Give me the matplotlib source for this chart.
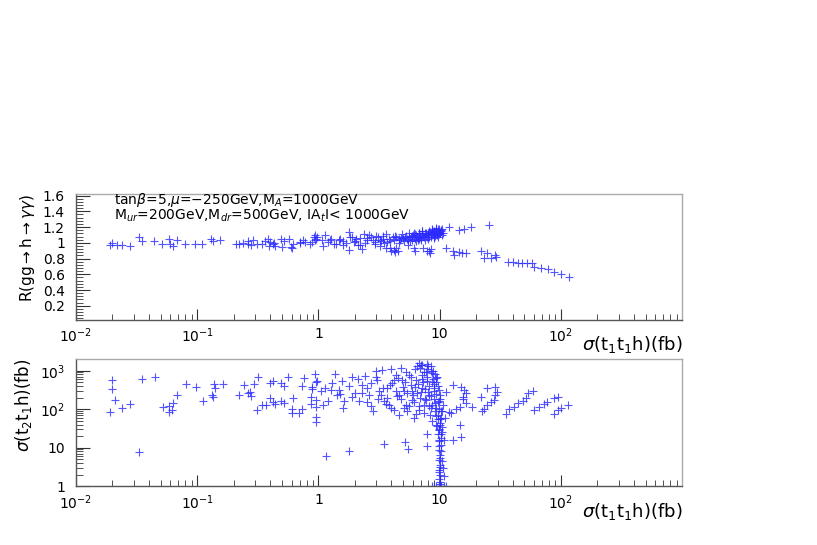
import matplotlib
matplotlib.use("Agg")
import matplotlib.pyplot as plt
from matplotlib.ticker import FixedLocator, FixedFormatter, MultipleLocator, LogLocator, NullFormatter

# ---------------- data: top panel  (sigma(t1 t1 h) [fb], R(gg->h->gamma gamma)) -------------
x_top = [0.019, 0.020, 0.022, 0.024, 0.028, 0.033, 0.035, 0.044, 0.051, 0.058, 0.060, 0.063,
         0.068, 0.079, 0.096, 0.11, 0.13, 0.135, 0.155, 0.21, 0.24, 0.26, 0.29, 0.31, 0.36,
         0.42, 0.43, 0.50, 0.52, 0.59, 0.62, 0.71, 0.78, 0.91, 0.94,
         0.22, 0.26, 0.28, 0.34, 0.38, 0.40, 0.39, 0.44, 0.49, 0.57, 0.60, 0.70, 0.75, 0.85,
         0.88, 0.93, 0.95,
         0.97, 1.06, 1.14, 1.28, 1.40, 1.47, 1.60, 1.78, 1.83, 1.95, 2.05, 2.2, 2.36, 2.5, 2.7,
         2.9, 3.0, 3.2, 3.4, 3.6, 3.7, 3.9, 4.1, 4.3, 4.6, 4.9, 5.2, 5.6, 5.9, 6.3, 6.7, 7.2,
         7.7, 8.2, 8.7, 9.3, 9.9,
         5.0, 5.3, 5.5, 5.8, 6.0, 6.2, 6.5, 6.8, 7.0, 7.3, 7.5, 7.8, 8.0, 8.3, 8.5, 8.8, 9.0,
         9.2, 9.5, 9.7, 9.9, 10.2, 10.5, 8.9, 9.6, 7.6, 6.6, 5.7, 4.7, 4.4, 3.8, 3.3, 2.8, 2.4,
         2.0, 1.7, 1.5, 1.2, 1.1, 10.0, 10.4, 9.4, 8.6, 7.1, 6.1, 3.1, 2.6, 2.2, 1.9,
         3.5, 3.9, 4.2, 4.6, 4.8, 5.1, 5.4, 5.6, 5.9, 6.1, 6.4, 6.7, 6.9, 7.2, 7.4, 7.7, 8.0,
         8.2, 8.4, 8.7, 8.9, 9.1, 9.3, 9.5, 9.8, 10.1, 10.3, 10.6, 9.0, 8.0, 7.0, 6.4, 2.9,
         2.5, 2.1, 1.6, 1.35, 1.25, 3.2, 3.4,
         4.0, 4.2, 4.3, 4.5, 4.4, 3.6, 2.3, 1.8, 5.5, 6.1, 6.3, 7.3, 7.9, 8.1, 8.3, 8.5,
         11.9, 14.3, 15.8, 18.1, 25.4, 11.2, 12.9, 14.3, 15.4, 13.1, 16.5,
         21.7, 24.4, 28.4, 23.0, 26.5, 29.4,
         36.5, 40.0, 44.0, 48.0, 52.0, 58.0,
         60.0, 69.0, 78.0, 88.0, 100.0, 116.0]
r_top = [0.97, 1.00, 0.97, 0.97, 0.96, 1.07, 1.02, 1.02, 0.98, 1.05, 0.99, 0.96,
         1.04, 0.99, 0.99, 0.98, 1.05, 1.02, 1.04, 0.99, 1.00, 0.98, 1.04, 0.98, 1.02,
         0.99, 1.00, 0.95, 1.02, 0.95, 0.99, 1.00, 1.01, 1.08, 1.03,
         0.99, 1.02, 0.97, 0.99, 1.05, 1.01, 0.96, 0.96, 1.05, 1.05, 0.94, 1.01, 1.03, 0.98,
         1.01, 1.10, 1.05,
         1.07, 1.03, 1.10, 1.05, 0.99, 1.03, 0.97, 1.14, 1.07, 1.01, 1.05, 0.97, 1.11, 1.03, 1.07,
         1.01, 1.09, 1.03, 1.05, 1.11, 1.01, 0.93, 1.07, 1.09, 1.05, 1.11, 1.07, 1.13, 1.09,
         1.11, 1.13, 1.15, 1.13, 1.15, 1.17, 1.17, 1.18,
         1.06, 1.09, 1.04, 1.07, 1.10, 1.05, 1.08, 1.12, 1.06, 1.09, 1.13, 1.07, 1.10, 1.14,
         1.08, 1.12, 1.15, 1.09, 1.13, 1.17, 1.11, 1.15, 1.18, 1.06, 1.08, 1.04, 1.03, 1.02,
         1.03, 1.07, 1.05, 1.02, 1.04, 1.00, 1.02, 1.00, 1.05, 1.01, 0.96, 1.13, 1.10, 1.19,
         1.16, 1.15, 1.13, 1.08, 1.10, 1.06, 1.08,
         1.00, 1.02, 1.04, 1.00, 1.06, 1.02, 1.05, 1.08, 1.03, 1.07, 1.10, 1.05, 1.09, 1.11,
         1.07, 1.10, 1.13, 1.08, 1.11, 1.14, 1.10, 1.12, 1.15, 1.10, 1.14, 1.12, 1.16, 1.13,
         1.07, 1.05, 1.03, 1.02, 0.99, 1.06, 0.97, 1.02, 0.98, 1.03, 0.96, 1.09,
         0.89, 0.91, 0.88, 0.90, 0.93, 0.93, 0.92, 0.91, 0.97, 0.93, 0.89, 0.93, 0.89, 0.90,
         0.87, 0.92,
         1.20, 1.16, 1.18, 1.20, 1.22, 0.93, 0.90, 0.88, 0.87, 0.84, 0.87,
         0.89, 0.87, 0.84, 0.81, 0.81, 0.82,
         0.75, 0.75, 0.74, 0.74, 0.74, 0.74,
         0.69, 0.68, 0.67, 0.63, 0.60, 0.57]

# ---------------- data: bottom panel  (sigma(t1 t1 h), sigma(t2 t1 h)) -------------------------
x_bot = [0.019, 0.020, 0.020, 0.021, 0.024, 0.028, 0.033, 0.035, 0.045, 0.052, 0.058, 0.058,
         0.062, 0.063, 0.068, 0.081, 0.098, 0.112, 0.133, 0.135, 0.138, 0.14, 0.164,
         0.22, 0.245, 0.26, 0.27, 0.28, 0.295, 0.32, 0.31, 0.34, 0.37, 0.40, 0.42, 0.40, 0.42,
         0.44, 0.49, 0.52, 0.49, 0.52, 0.56, 0.61, 0.61, 0.62, 0.69, 0.73, 0.73, 0.76, 0.89,
         0.89, 0.94, 0.96, 0.96, 0.96, 0.96, 0.86, 0.96, 0.87,
         0.97, 1.14, 1.26, 1.38, 1.43, 1.47, 1.57, 1.62, 1.78, 1.90, 2.02, 2.15, 2.30, 2.44,
         2.52, 2.61, 2.69, 2.96, 3.05, 3.15, 3.36, 3.46, 3.69, 3.93, 4.06, 4.33, 4.47, 4.61,
         4.76, 4.91, 5.07, 5.23, 5.40, 5.57, 5.75, 5.94, 6.13, 6.33, 6.53, 6.74, 6.96, 7.09,
         7.19, 7.42, 7.66, 7.91, 8.06, 8.16, 8.42, 8.69, 8.81, 8.98, 9.15, 9.26, 9.38, 9.57,
         9.75, 9.87, 10.0, 10.2, 10.4, 10.5, 10.6, 10.9,
         3.0, 3.3, 3.6, 3.9, 4.2, 4.5, 4.8, 5.0, 5.3, 5.6, 5.9, 6.2, 6.4, 6.6, 6.9, 7.1, 7.4,
         7.7, 8.0, 8.3, 8.6, 8.9, 9.1, 9.4, 9.6, 9.9, 10.1, 10.3, 10.6, 11.0, 9.3, 9.8, 10.4,
         8.8, 7.5, 6.0, 5.1, 4.4, 3.7, 2.5, 2.1, 1.6, 1.3, 1.05, 1.2, 2.8, 4.0,
         5.2, 5.4, 5.8, 6.1, 6.3, 6.5, 6.8, 7.0, 7.3, 7.6, 7.8, 8.1, 8.2, 8.4, 8.5, 8.7, 8.9,
         9.0, 9.2, 9.3, 9.5, 9.6, 9.7, 9.8, 9.9, 10.0, 10.1, 10.2, 9.4, 8.6, 7.9, 7.4, 6.9,
         4.6, 4.2, 3.8, 3.4, 3.1, 2.7, 2.3, 1.9, 1.5, 1.1,
         9.7, 10.1, 9.9, 10.3, 9.8, 10.2, 9.9, 10.0, 9.8, 10.1, 9.9, 10.0, 9.9, 10.1, 10.0,
         10.5, 10.3, 9.9, 10.0, 10.1, 9.9, 10.0,
         8.6, 9.0, 9.4, 9.8, 10.3, 10.8, 11.3,
         1.16, 1.78, 3.5, 5.2, 5.5, 7.8, 7.8, 12.9, 15.0, 14.8, 10.8,
         12.9, 15.0, 15.8, 16.5, 15.6, 15.6, 16.5, 14.8, 13.6, 12.3, 11.9, 18.6, 11.2, 21.7,
         24.4, 28.4, 29.5, 28.4, 27.9, 26.6, 24.4, 23.0, 22.4,
         35.3, 37.6, 41.2, 44.3, 48.2, 51.5, 53.8, 58.3,
         60.0, 66.0, 72.0, 77.0, 88.0, 95.0, 88.0, 95.0, 101.0, 115.0,
         6.7, 7.9, 7.2, 8.5]
s_bot = [83, 584, 340, 177, 105, 138, 7.9, 620, 700, 116, 123, 83,
         97, 148, 237, 460, 380, 166, 238, 210, 460, 360, 460,
         237, 430, 270, 285, 225, 460, 700, 97, 125, 125, 200, 158, 490, 550,
         138, 490, 410, 166, 148, 700, 103, 81, 200, 80, 103, 410, 660, 380,
         340, 840, 175, 116, 64, 47, 210, 520, 138,
         528, 355, 321, 820, 238, 321, 528, 160, 392, 203, 263, 160, 433, 713,
         355, 238, 119, 1000, 585, 291, 1060, 160, 355, 107, 479, 788, 216, 72,
         1174, 585, 291, 131, 88, 788, 433, 177, 59, 585, 263, 119, 1432, 788,
         355, 80, 177, 528, 1297, 238, 107, 48, 962, 355, 145, 65, 646, 36,
         22, 15, 238, 8.0, 88, 4.4, 3.0, 1.8,
         700, 240, 140, 420, 95, 650, 180, 380, 900, 120, 300, 1100, 75, 450, 200, 620, 130,
         950, 280, 70, 520, 180, 800, 110, 400, 160, 55, 90, 130, 60, 40, 30, 25,
         600, 330, 240, 110, 300, 200, 150, 600, 110, 470, 300, 160, 90, 1100,
         500, 260, 700, 150, 380, 1300, 95, 280, 500, 180, 700, 120, 400, 1000, 220, 130, 300,
         450, 90, 250, 700, 150, 70, 320, 100, 45, 180, 60, 520, 850, 1100, 900, 1200,
         240, 560, 130, 360, 180, 480, 270, 700, 250, 130,
         54, 40, 29, 22, 16, 12, 8.9, 6.6, 4.9, 3.6, 2.7, 2.0, 1.5, 1.15, 1.0,
         35, 18, 11, 5.5, 3.2, 2.3, 1.3,
         1.02, 1.03, 1.01, 1.02, 1.01, 1.03, 1.02,
         6.2, 8.3, 12.6, 14, 9.5, 22, 11, 16, 19, 40, 16,
         430, 380, 320, 270, 210, 188, 148, 116, 103, 81, 85, 116, 285, 210,
         360, 380, 285, 238, 175, 158, 130, 103, 92,
         76, 103, 116, 148, 166, 200, 270, 300,
         97, 116, 138, 158, 200, 210, 76, 97, 109, 130,
         1600, 1520, 1400, 1300]

x_ticks = [0.01, 0.1, 1, 10, 100]
x_ticklabels = ['10$^{-2}$', '10$^{-1}$', '1', '10', '10$^{2}$']
r_ticks = [0.2, 0.4, 0.6, 0.8, 1.0, 1.2, 1.4, 1.6]
r_ticklabels = ['0.2', '0.4', '0.6', '0.8', '1', '1.2', '1.4', '1.6']
s_ticks = [1, 10, 100, 1000]
s_ticklabels = ['1', '10', '10$^{2}$', '10$^{3}$']

plt.rcParams['font.family'] = ['DejaVu Sans']
plt.rcParams['mathtext.fontset'] = 'dejavusans'

fig = plt.figure(figsize=(8.17, 5.45), dpi=100)
ax1 = fig.add_axes([0.093, 0.413, 0.742, 0.231])
ax2 = fig.add_axes([0.093, 0.108, 0.742, 0.233])

mk = dict(linestyle='none', marker='+', markersize=5.5, markeredgewidth=0.8,
          color='#2a2aff', alpha=0.8)

ax1.plot(x_top, r_top, **mk)
ax2.plot(x_bot, s_bot, **mk)

for ax in (ax1, ax2):
    ax.set_xscale('log')
    ax.set_xlim(0.01, 1000)
    ax.xaxis.set_major_locator(FixedLocator(x_ticks))
    ax.xaxis.set_major_formatter(FixedFormatter(x_ticklabels))
    ax.xaxis.set_minor_locator(LogLocator(base=10, subs=range(2, 10), numticks=20))
    ax.xaxis.set_minor_formatter(NullFormatter())
    ax.tick_params(axis='both', which='both', direction='in', top=False, right=False,
                   colors='#333333', labelcolor='black', labelsize=10)
    ax.tick_params(axis='x', which='major', length=8, width=0.8, pad=5)
    ax.tick_params(axis='x', which='minor', length=4, width=0.6)
    ax.tick_params(axis='y', which='major', length=10, width=0.8, pad=8)
    ax.tick_params(axis='y', which='minor', length=5, width=0.6)
    for sp in ('top', 'right'):
        ax.spines[sp].set_color('#aaaaaa')
        ax.spines[sp].set_linewidth(1.0)
    for sp in ('left', 'bottom'):
        ax.spines[sp].set_color('#555555')
        ax.spines[sp].set_linewidth(1.0)
    ax.text(1.0, -0.115, r'$\sigma$(t$_1$t$_1$h)(fb)', transform=ax.transAxes,
            ha='right', va='top', fontsize=13)

ax1.set_ylim(0.02, 1.62)
ax1.yaxis.set_major_locator(FixedLocator(r_ticks))
ax1.yaxis.set_major_formatter(FixedFormatter(r_ticklabels))
ax1.yaxis.set_minor_locator(MultipleLocator(0.04))
ax1.set_ylabel(r'R(gg$\rightarrow$h$\rightarrow\gamma\gamma$)', fontsize=11, loc='top', labelpad=4)

ax2.set_yscale('log')
ax2.set_ylim(1, 2000)
ax2.yaxis.set_major_locator(FixedLocator(s_ticks))
ax2.yaxis.set_major_formatter(FixedFormatter(s_ticklabels))
ax2.yaxis.set_minor_locator(LogLocator(base=10, subs=range(2, 10), numticks=20))
ax2.yaxis.set_minor_formatter(NullFormatter())
ax2.set_ylabel(r'$\sigma$(t$_2$t$_1$h)(fb)', fontsize=12, loc='top', labelpad=4)

ax1.text(0.062, 0.95, r'tan$\beta$=5,$\mu$=$-$250GeV,M$_A$=1000GeV', transform=ax1.transAxes,
         ha='left', va='center', fontsize=10)
ax1.text(0.062, 0.825, r'M$_{ur}$=200GeV,M$_{dr}$=500GeV, IA$_t$I< 1000GeV', transform=ax1.transAxes,
         ha='left', va='center', fontsize=10)

fig.savefig('out.png', dpi=100)
